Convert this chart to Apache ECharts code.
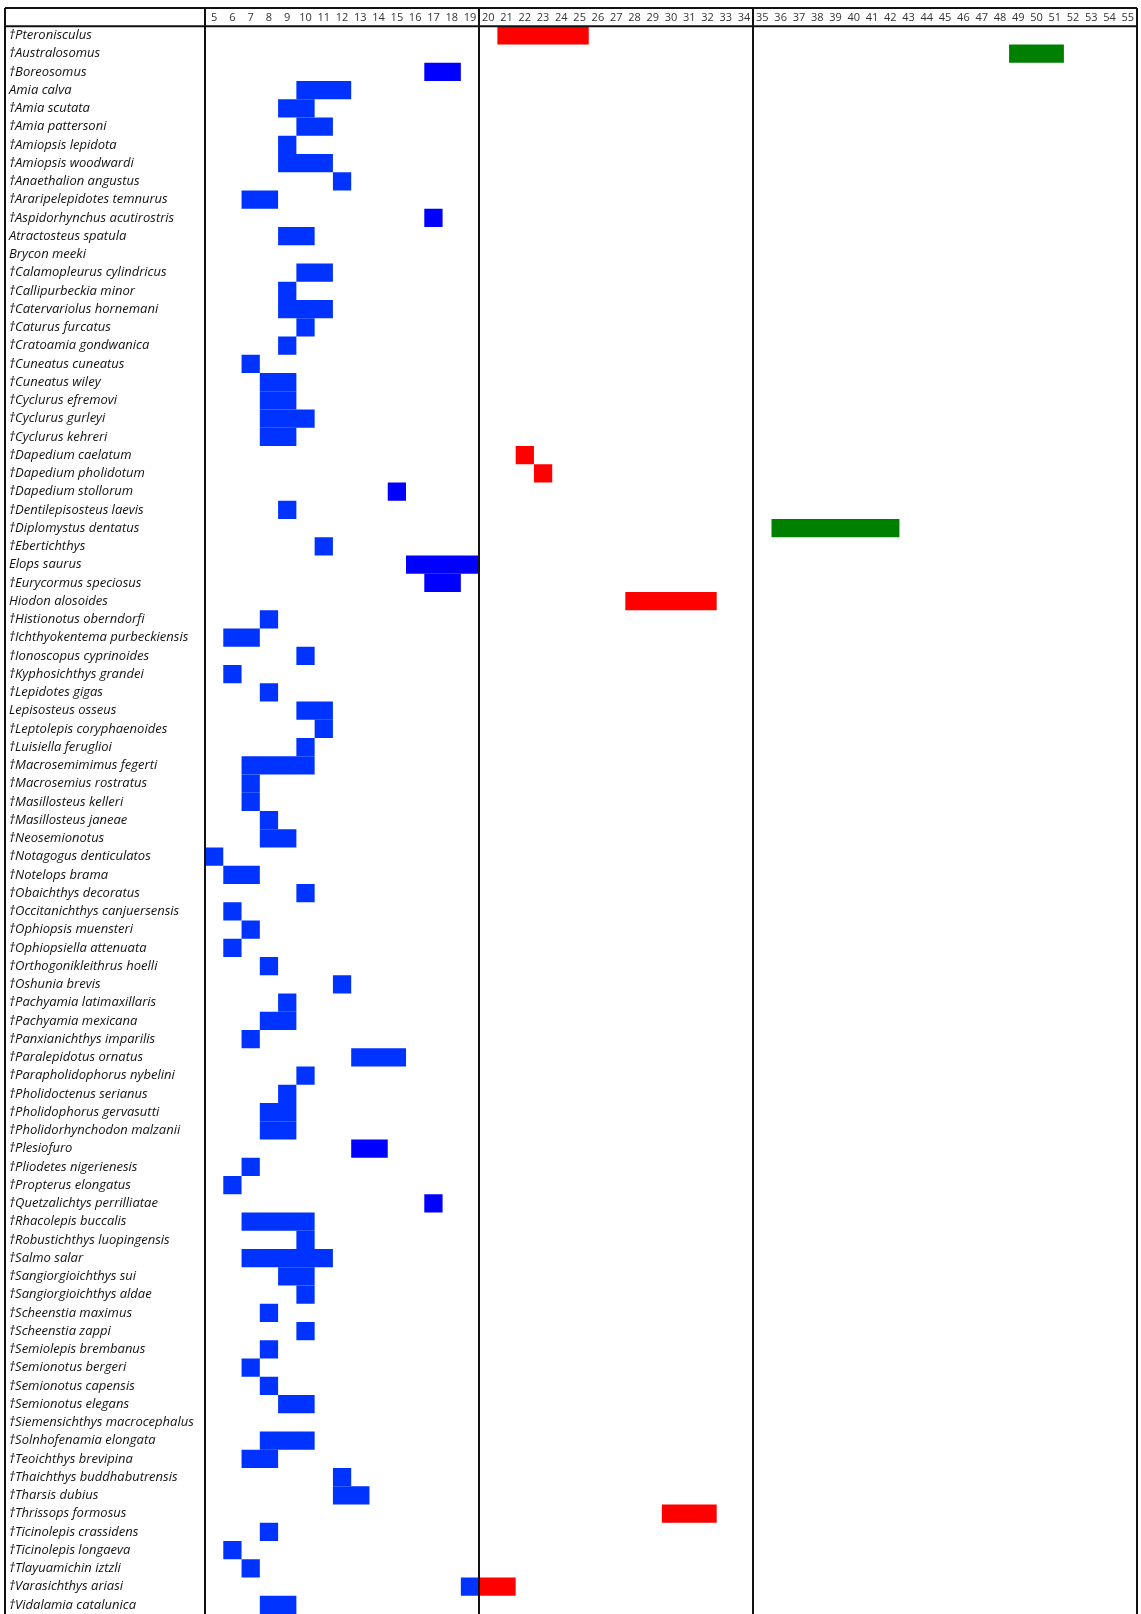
<!DOCTYPE html>
<html>
<head>
<meta charset="utf-8">
<script src="https://cdn.jsdelivr.net/npm/echarts@6/dist/echarts.min.js"></script>
<style>
  html, body { margin: 0; padding: 0; background: #ffffff; }
  #chart { width: 1141px; height: 1614px; }
</style>
</head>
<body>
<div id="chart"></div>
<script>
// Column numbers shown in the header band
const columns = [5, 6, 7, 8, 9, 10, 11, 12, 13, 14, 15, 16, 17, 18, 19, 20, 21, 22, 23, 24, 25, 26, 27, 28, 29, 30,
  31, 32, 33, 34, 35, 36, 37, 38, 39, 40, 41, 42, 43, 44, 45, 46, 47, 48, 49, 50, 51, 52, 53, 54, 55];

// Taxa, one per row (top to bottom); † marks extinct taxa
const species = [
  "†Pteronisculus", "†Australosomus", "†Boreosomus", "Amia calva", "†Amia scutata", "†Amia pattersoni",
  "†Amiopsis lepidota", "†Amiopsis woodwardi", "†Anaethalion angustus", "†Araripelepidotes temnurus",
  "†Aspidorhynchus acutirostris", "Atractosteus spatula", "Brycon meeki", "†Calamopleurus cylindricus",
  "†Callipurbeckia minor", "†Catervariolus hornemani", "†Caturus furcatus", "†Cratoamia gondwanica",
  "†Cuneatus cuneatus", "†Cuneatus wiley", "†Cyclurus efremovi", "†Cyclurus gurleyi", "†Cyclurus kehreri",
  "†Dapedium caelatum", "†Dapedium pholidotum", "†Dapedium stollorum", "†Dentilepisosteus laevis",
  "†Diplomystus dentatus", "†Ebertichthys", "Elops saurus", "†Eurycormus speciosus", "Hiodon alosoides",
  "†Histionotus oberndorfi", "†Ichthyokentema purbeckiensis", "†Ionoscopus cyprinoides",
  "†Kyphosichthys grandei", "†Lepidotes gigas", "Lepisosteus osseus", "†Leptolepis coryphaenoides",
  "†Luisiella feruglioi", "†Macrosemimimus fegerti", "†Macrosemius rostratus", "†Masillosteus kelleri",
  "†Masillosteus janeae", "†Neosemionotus", "†Notagogus denticulatos", "†Notelops brama",
  "†Obaichthys decoratus", "†Occitanichthys canjuersensis", "†Ophiopsis muensteri", "†Ophiopsiella attenuata",
  "†Orthogonikleithrus hoelli", "†Oshunia brevis", "†Pachyamia latimaxillaris", "†Pachyamia mexicana",
  "†Panxianichthys imparilis", "†Paralepidotus ornatus", "†Parapholidophorus nybelini",
  "†Pholidoctenus serianus", "†Pholidophorus gervasutti", "†Pholidorhynchodon malzanii", "†Plesiofuro",
  "†Pliodetes nigerienesis", "†Propterus elongatus", "†Quetzalichtys perrilliatae", "†Rhacolepis buccalis",
  "†Robustichthys luopingensis", "†Salmo salar", "†Sangiorgioichthys sui", "†Sangiorgioichthys aldae",
  "†Scheenstia maximus", "†Scheenstia zappi", "†Semiolepis brembanus", "†Semionotus bergeri",
  "†Semionotus capensis", "†Semionotus elegans", "†Siemensichthys macrocephalus", "†Solnhofenamia elongata",
  "†Teoichthys brevipina", "†Thaichthys buddhabutrensis", "†Tharsis dubius", "†Thrissops formosus",
  "†Ticinolepis crassidens", "†Ticinolepis longaeva", "†Tlayuamichin iztzli", "†Varasichthys ariasi",
  "†Vidalamia catalunica"
];

// Filled spans: [taxon, first column, last column]
const blueSpans = [
  ["Amia calva", 10, 12], ["†Amia scutata", 9, 10], ["†Amia pattersoni", 10, 11],
  ["†Amiopsis lepidota", 9, 9], ["†Amiopsis woodwardi", 9, 11], ["†Anaethalion angustus", 12, 12],
  ["†Araripelepidotes temnurus", 7, 8], ["Atractosteus spatula", 9, 10], ["†Calamopleurus cylindricus", 10, 11],
  ["†Callipurbeckia minor", 9, 9], ["†Catervariolus hornemani", 9, 11], ["†Caturus furcatus", 10, 10],
  ["†Cratoamia gondwanica", 9, 9], ["†Cuneatus cuneatus", 7, 7], ["†Cuneatus wiley", 8, 9],
  ["†Cyclurus efremovi", 8, 9], ["†Cyclurus gurleyi", 8, 10], ["†Cyclurus kehreri", 8, 9],
  ["†Dentilepisosteus laevis", 9, 9], ["†Ebertichthys", 11, 11], ["†Histionotus oberndorfi", 8, 8],
  ["†Ichthyokentema purbeckiensis", 6, 7], ["†Ionoscopus cyprinoides", 10, 10], ["†Kyphosichthys grandei", 6, 6],
  ["†Lepidotes gigas", 8, 8], ["Lepisosteus osseus", 10, 11], ["†Leptolepis coryphaenoides", 11, 11],
  ["†Luisiella feruglioi", 10, 10], ["†Macrosemimimus fegerti", 7, 10], ["†Macrosemius rostratus", 7, 7],
  ["†Masillosteus kelleri", 7, 7], ["†Masillosteus janeae", 8, 8], ["†Neosemionotus", 8, 9],
  ["†Notagogus denticulatos", 5, 5], ["†Notelops brama", 6, 7], ["†Obaichthys decoratus", 10, 10],
  ["†Occitanichthys canjuersensis", 6, 6], ["†Ophiopsis muensteri", 7, 7], ["†Ophiopsiella attenuata", 6, 6],
  ["†Orthogonikleithrus hoelli", 8, 8], ["†Oshunia brevis", 12, 12], ["†Pachyamia latimaxillaris", 9, 9],
  ["†Pachyamia mexicana", 8, 9], ["†Panxianichthys imparilis", 7, 7], ["†Paralepidotus ornatus", 13, 15],
  ["†Parapholidophorus nybelini", 10, 10], ["†Pholidoctenus serianus", 9, 9],
  ["†Pholidophorus gervasutti", 8, 9], ["†Pholidorhynchodon malzanii", 8, 9],
  ["†Pliodetes nigerienesis", 7, 7], ["†Propterus elongatus", 6, 6], ["†Rhacolepis buccalis", 7, 10],
  ["†Robustichthys luopingensis", 10, 10], ["†Salmo salar", 7, 11], ["†Sangiorgioichthys sui", 9, 10],
  ["†Sangiorgioichthys aldae", 10, 10], ["†Scheenstia maximus", 8, 8], ["†Scheenstia zappi", 10, 10],
  ["†Semiolepis brembanus", 8, 8], ["†Semionotus bergeri", 7, 7], ["†Semionotus capensis", 8, 8],
  ["†Semionotus elegans", 9, 10], ["†Solnhofenamia elongata", 8, 10], ["†Teoichthys brevipina", 7, 8],
  ["†Thaichthys buddhabutrensis", 12, 12], ["†Tharsis dubius", 12, 13], ["†Ticinolepis crassidens", 8, 8],
  ["†Ticinolepis longaeva", 6, 6], ["†Tlayuamichin iztzli", 7, 7], ["†Varasichthys ariasi", 19, 19],
  ["†Vidalamia catalunica", 8, 9]
];

const deepBlueSpans = [
  ["†Boreosomus", 17, 18], ["†Aspidorhynchus acutirostris", 17, 17], ["†Dapedium stollorum", 15, 15],
  ["Elops saurus", 16, 19], ["†Eurycormus speciosus", 17, 18], ["†Plesiofuro", 13, 14],
  ["†Quetzalichtys perrilliatae", 17, 17]
];

const redSpans = [
  ["†Pteronisculus", 21, 25], ["†Dapedium caelatum", 22, 22], ["†Dapedium pholidotum", 23, 23],
  ["Hiodon alosoides", 28, 32], ["†Thrissops formosus", 30, 32], ["†Varasichthys ariasi", 20, 21]
];

const greenSpans = [
  ["†Australosomus", 49, 51], ["†Diplomystus dentatus", 36, 42]
];

// Column groups are separated by heavy rules at these boundaries
const groupBreaks = [5, 20, 35, 56];

// Row 0 is the header band holding the column numbers
const rows = [""].concat(species);

const LABEL_FONT = "'Open Sans', 'Noto Sans', sans-serif";
const HEAD_FONT = "'Open Sans', 'Noto Sans', sans-serif";

function toItems(spans) {
  return spans.map(s => [rows.indexOf(s[0]), s[1], s[2]]);
}

function renderSpan(params, api) {
  const row = api.value(0);
  const start = api.coord([api.value(1), row]);
  const end = api.coord([api.value(2) + 1, row]);
  const h = api.size([0, 1])[1];
  return {
    type: "rect",
    shape: { x: start[0], y: start[1] - h / 2, width: end[0] - start[0], height: h },
    style: { fill: api.visual("color") }
  };
}

function spanSeries(name, spans, color) {
  return {
    type: "custom",
    name: name,
    xAxisIndex: 0,
    yAxisIndex: 0,
    renderItem: renderSpan,
    encode: { x: [1, 2], y: 0 },
    itemStyle: { color: color },
    silent: true,
    data: toItems(spans)
  };
}

const chart = echarts.init(document.getElementById("chart"), null, { renderer: "canvas" });

const ROW_H = 18.29;

chart.setOption({
  animation: false,
  backgroundColor: "#ffffff",
  grid: { left: 205, top: 8, width: 932, height: ROW_H * rows.length, containLabel: false },
  xAxis: [
    { type: "value", min: 5, max: 56, show: false, gridIndex: 0 },
    {
      type: "category", data: columns, position: "top", gridIndex: 0,
      axisLine: { show: false }, axisTick: { show: false }, splitLine: { show: false },
      axisLabel: { inside: true, margin: 4, interval: 0, fontSize: 11, color: "#333333", fontFamily: HEAD_FONT }
    }
  ],
  yAxis: {
    type: "category", data: rows, inverse: true,
    axisLine: { show: false }, axisTick: { show: false }, splitLine: { show: false },
    axisLabel: {
      interval: 0, align: "left", margin: 196, fontSize: 13, fontStyle: "italic",
      color: "#111111", fontFamily: LABEL_FONT, padding: [3, 0, 0, 0]
    }
  },
  series: [
    spanSeries("blue", blueSpans, "#0033ff"),
    spanSeries("deep blue", deepBlueSpans, "#0000ff"),
    spanSeries("red", redSpans, "#ff0000"),
    spanSeries("green", greenSpans, "#008000"),
    {
      type: "line", name: "rules", xAxisIndex: 0, yAxisIndex: 0, data: [], z: 10, silent: true,
      markLine: {
        silent: true, symbol: "none", animation: false,
        label: { show: false },
        lineStyle: { color: "#111111", width: 2, type: "solid" },
        data: groupBreaks.map(v => ({ xAxis: v }))
      }
    }
  ]
});

// Table frame: top edge, header underline and the outer left edge of the name column
const c0 = chart.convertToPixel({ yAxisIndex: 0 }, 0);
const c1 = chart.convertToPixel({ yAxisIndex: 0 }, 1);
const rowH = c1 - c0;
const yTop = c0 - rowH / 2;
const yHead = c0 + rowH / 2;
const xGrid = chart.convertToPixel({ xAxisIndex: 0 }, 5);
const xRight = chart.convertToPixel({ xAxisIndex: 0 }, 56);
const xLeft = xGrid - 200;
const frame = { stroke: "#111111", lineWidth: 2 };

chart.setOption({
  graphic: [
    { type: "line", z: 20, silent: true, shape: { x1: xLeft, y1: yTop, x2: xRight, y2: yTop }, style: frame },
    { type: "line", z: 20, silent: true, shape: { x1: xLeft, y1: yHead, x2: xRight, y2: yHead }, style: frame },
    { type: "line", z: 20, silent: true, shape: { x1: xLeft, y1: yTop, x2: xLeft, y2: 1614 }, style: frame }
  ]
});
</script>
</body>
</html>
